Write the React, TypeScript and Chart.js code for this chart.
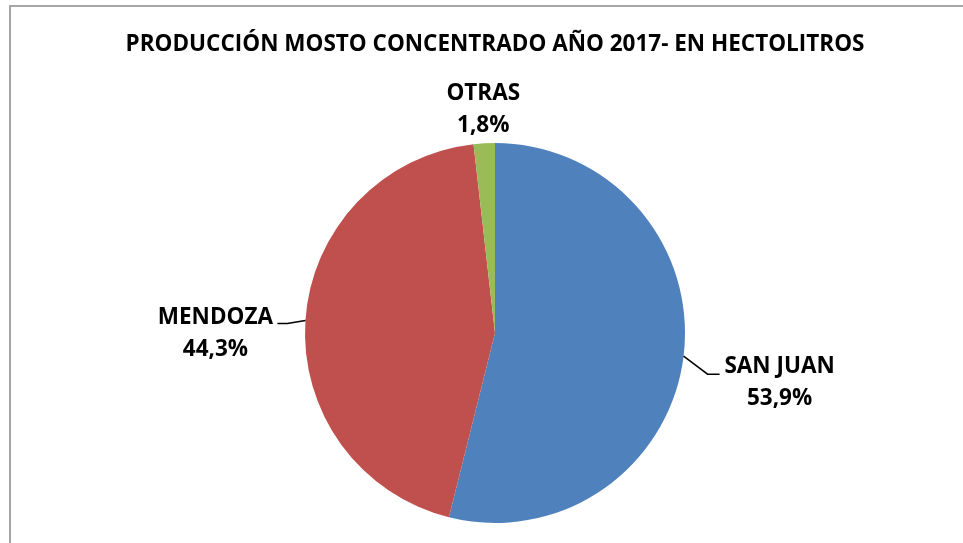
import { useEffect, useRef } from "react";
import { Chart, registerables } from "chart.js";

Chart.register(...registerables);

const categories = ["SAN JUAN", "MENDOZA", "OTRAS"];
const shares = [53.9, 44.3, 1.8];
const percentLabels = ["53,9%", "44,3%", "1,8%"];
const sliceColors = ["#4F81BD", "#C0504D", "#9BBB59"];
const titleText = "PRODUCCIÓN MOSTO CONCENTRADO AÑO 2017- EN HECTOLITROS";

const FONT = "'Open Sans', 'Noto Sans', sans-serif";

// label placement relative to the slice's outer mid point
const labelLayout = [
  { line: [[24, 18], [36, 18]], text: [96, 10] },
  { line: [[-18, 3], [-28, 3]], text: [-90, -3] },
  { line: null, text: [-1, -50] },
];

const labelPlugin = {
  id: "sliceLabels",
  afterDatasetsDraw(chart: any) {
    const ctx = chart.ctx;
    const meta = chart.getDatasetMeta(0);
    ctx.save();
    meta.data.forEach((arc: any, i: number) => {
      const { x, y, startAngle, endAngle, outerRadius } = arc.getProps(
        ["x", "y", "startAngle", "endAngle", "outerRadius"],
        true
      );
      const mid = (startAngle + endAngle) / 2;
      const ex = x + Math.cos(mid) * outerRadius;
      const ey = y + Math.sin(mid) * outerRadius;
      const lay = labelLayout[i];
      if (lay.line) {
        ctx.beginPath();
        ctx.strokeStyle = "#000";
        ctx.lineWidth = 1.5;
        ctx.moveTo(ex, ey);
        lay.line.forEach((p) => ctx.lineTo(ex + p[0], ey + p[1]));
        ctx.stroke();
      }
      ctx.fillStyle = "#000";
      ctx.font = `bold 22.5px ${FONT}`;
      ctx.textAlign = "center";
      ctx.textBaseline = "middle";
      const tx = ex + lay.text[0];
      const ty = ey + lay.text[1];
      ctx.fillText(categories[i], tx, ty);
      ctx.fillText(percentLabels[i], tx, ty + 32);
    });
    ctx.restore();
  },
};

export default function App() {
  const ref = useRef<HTMLCanvasElement>(null);
  useEffect(() => {
    if (!ref.current) return;
    const chart = new Chart(ref.current, {
      type: "pie",
      data: {
        labels: categories,
        datasets: [
          {
            data: shares,
            backgroundColor: sliceColors,
            borderWidth: 0,
          },
        ],
      },
      options: {
        animation: false,
        responsive: false,
        layout: { padding: { left: 27, right: 0, top: 0, bottom: 20 } },
        plugins: {
          legend: { display: false },
          tooltip: { enabled: false },
          title: {
            display: true,
            text: titleText,
            color: "#000",
            font: { family: FONT, size: 22.5, weight: "bold", lineHeight: 1.2 },
            padding: { top: 31.5, bottom: 84.5 },
          },
        },
      },
      plugins: [labelPlugin],
    });
    return () => chart.destroy();
  }, []);
  return (
    <div
      style={{
        position: "fixed",
        left: 0,
        top: 0,
        width: 963,
        height: 543,
        overflow: "hidden",
        background: "#fff",
      }}
    >
      <div
        style={{
          position: "absolute",
          left: 9,
          top: 5,
          width: 1000,
          height: 600,
          border: "2px solid #a6a6a6",
          boxSizing: "border-box",
        }}
      />
      <canvas
        ref={ref}
        width={963}
        height={543}
        style={{ position: "absolute", left: 0, top: 0 }}
      />
    </div>
  );
}
